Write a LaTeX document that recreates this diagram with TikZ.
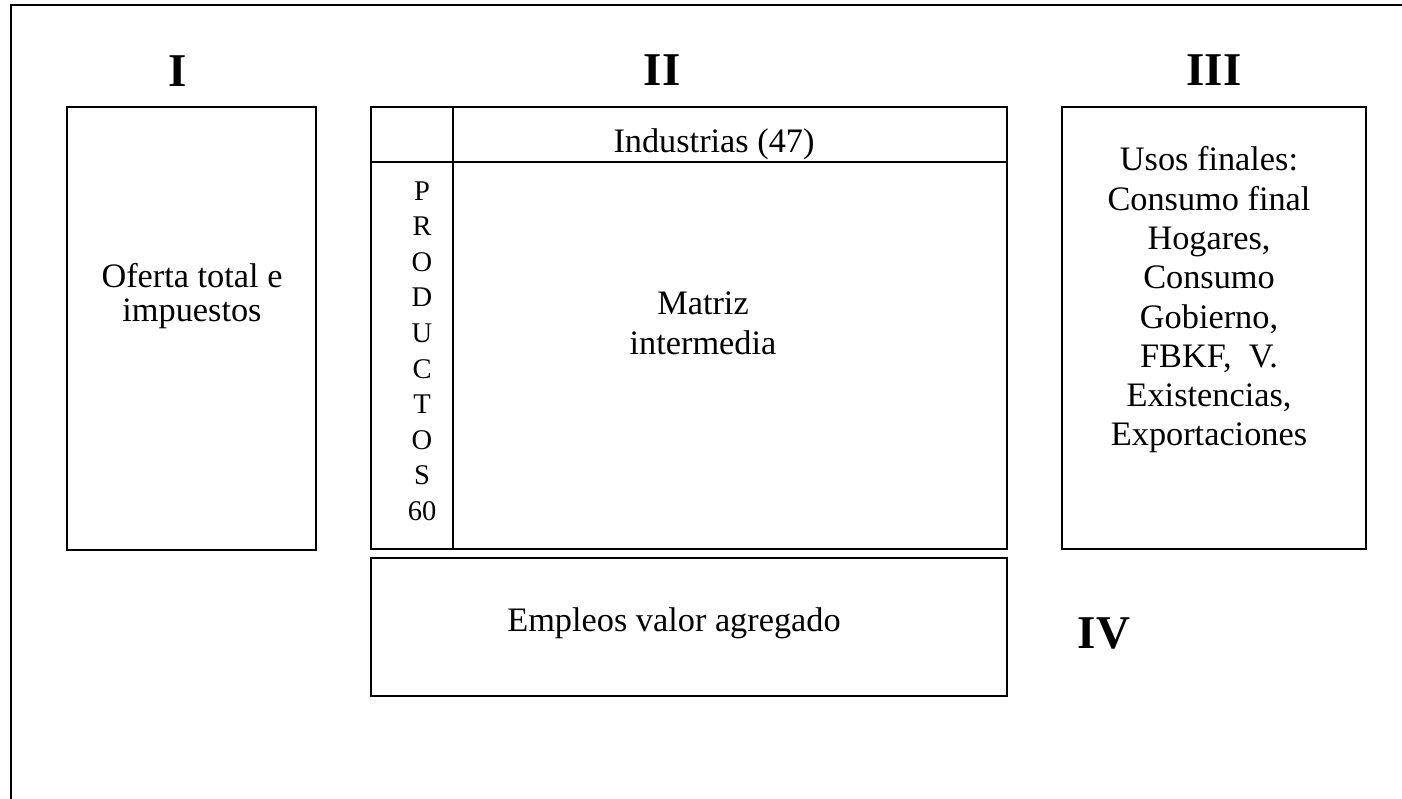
\documentclass[tikz,border=0pt]{standalone}
\usepackage{fontspec}
\setmainfont{Liberation Serif}
\usetikzlibrary{
	positioning
}
\tikzset{
	caja/.style={line width=2.4pt},
	romano/.style={font=\fontsize{47}{50}\selectfont\bfseries, anchor=base, inner sep=0pt},
	texto/.style={font=\fontsize{34.3}{39.3}\selectfont, align=center, inner sep=0pt},
	letra/.style={font=\fontsize{28.5}{30}\selectfont, anchor=base, inner sep=0pt}
}

\begin{document}
\begin{tikzpicture}[x=1pt, y=-1pt]
	\useasboundingbox (0,0) rectangle (1402,798);
	% marco
	\draw[caja] (11,800) -- (11,5) -- (1404,5);
	% cuadrantes
	\node[romano] (numI) at (178,86) {I};
	\node[romano] (numII) at (662,85) {II};
	\node[romano] (numIII) at (1214,85) {III};
	\node[romano] (numIV) at (1104,648) {IV};
	% I
	\draw[caja] (67,107) rectangle (316,550);
	\node[texto, font=\fontsize{34.3}{34}\selectfont] (oferta) at (192,296) {Oferta total e\\impuestos};
	% II
	\draw[caja] (371,107) rectangle (1007,549);
	\draw[caja] (453,107) -- (453,549);
	\draw[caja] (371,162) -- (1007,162);
	\node[texto, anchor=base] (industrias) at (714,152) {Industrias (47)};
	\foreach \letrap [count=\i from 0] in {P,R,O,D,U,C,T,O,S,60} {
		\node[letra] (prod\i) at (422,{200+\i*35.6}) {\letrap};
	}
	\node[texto, font=\fontsize{34.3}{40}\selectfont] (matriz) at (703,323) {Matriz\\intermedia};
	\draw[caja] (371,558) rectangle (1007,696);
	\node[texto, anchor=base] (empleos) at (674,631) {Empleos valor agregado};
	% III
	\draw[caja] (1062,107) rectangle (1366,549);
	\node[texto] (usos) at (1209,300) {Usos finales:\\Consumo final\\Hogares,\\Consumo\\Gobierno,\\FBKF,~ V.\\Existencias,\\Exportaciones};
\end{tikzpicture}
\end{document}
